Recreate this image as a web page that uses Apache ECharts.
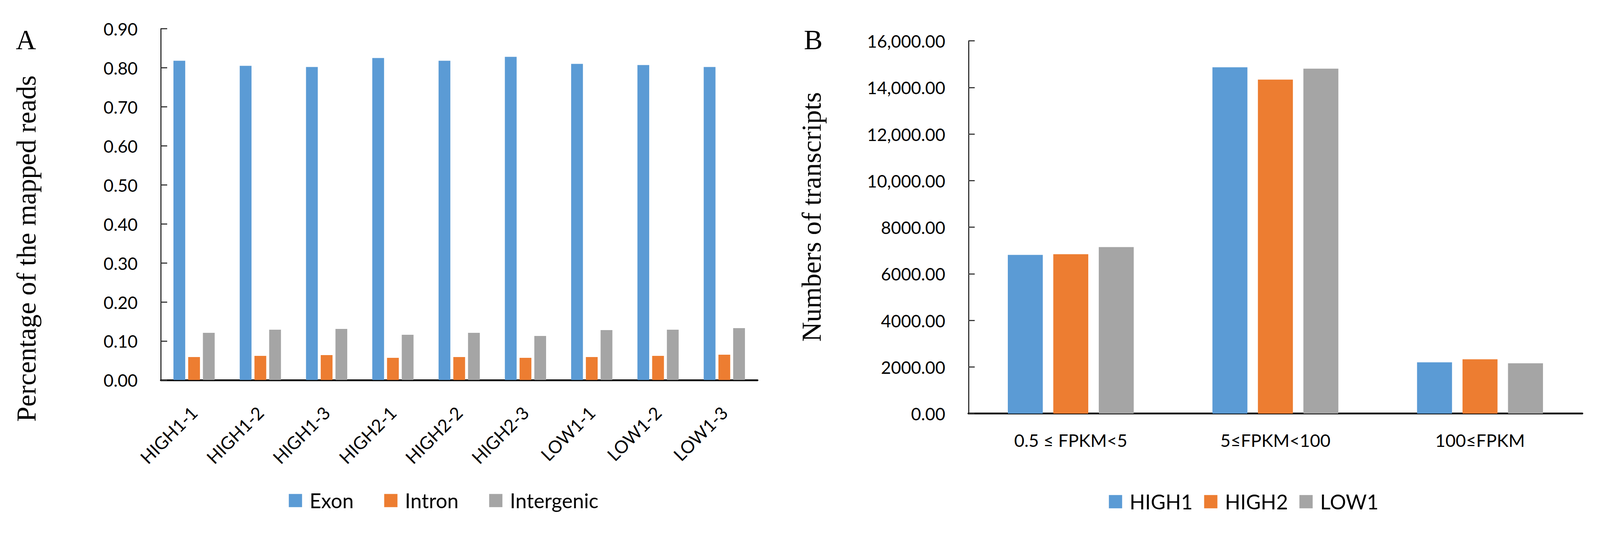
<!DOCTYPE html>
<html>
<head>
<meta charset="utf-8">
<script src="https://cdn.jsdelivr.net/npm/echarts@6/dist/echarts.min.js"></script>
<style>
html,body{margin:0;padding:0;background:#fff;overflow:hidden;}
#c{position:absolute;left:0;top:0;}
</style>
</head>
<body>
<div id="c"></div>
<script>
// ---- Panel A data ----
const samplesA = ['HIGH1-1','HIGH1-2','HIGH1-3','HIGH2-1','HIGH2-2','HIGH2-3','LOW1-1','LOW1-2','LOW1-3'];
const exon       = [0.818, 0.805, 0.802, 0.825, 0.818, 0.828, 0.810, 0.807, 0.802];
const intron     = [0.059, 0.062, 0.064, 0.057, 0.059, 0.057, 0.059, 0.062, 0.065];
const intergenic = [0.121, 0.129, 0.131, 0.116, 0.121, 0.113, 0.128, 0.129, 0.133];
const yTicksA = ['0.00','0.10','0.20','0.30','0.40','0.50','0.60','0.70','0.80','0.90'];
const seriesNamesA = ['Exon','Intron','Intergenic'];

// ---- Panel B data ----
const rangesB = ['0.5 \u2264 FPKM<5', '5\u2264FPKM<100', '100\u2264FPKM'];
const high1 = [6812, 14865, 2201];
const high2 = [6841, 14336, 2330];
const low1  = [7145, 14806, 2158];
const yTicksB = ['0.00','2000.00','4000.00','6000.00','8000.00','10,000.00','12,000.00','14,000.00','16,000.00'];
const seriesNamesB = ['HIGH1','HIGH2','LOW1'];

const colors = ['#5B9BD5','#ED7D31','#A5A5A5'];
const sans = 'Lato';
const serif = 'Liberation Serif';

// scale design units (4345 x 1431) to the actual viewport
const vw = window.innerWidth || 4345, vh = window.innerHeight || 1431;
const k = Math.min(vw / 4345, vh / 1431);
const s = (v) => v * k;
const el = document.getElementById('c');
el.style.width = s(4345) + 'px';
el.style.height = s(1431) + 'px';

const chart = echarts.init(el, null, {renderer:'svg'});

const axisLineStyle = {color:'#000', width:s(5)};
const yLineStyle = {color:'#000', width:s(2.5)};
const tickStyle = {color:'#333', width:s(3)};

const option = {
  backgroundColor:'#fff',
  animation:false,
  grid:[
    {left:s(437), top:s(78), width:s(1620), height:s(954)},
    {left:s(2630), top:s(111), width:s(1667), height:s(1012)}
  ],
  xAxis:[
    {type:'category', gridIndex:0, data:samplesA,
     axisLine:{lineStyle:axisLineStyle}, axisTick:{show:false},
     axisLabel:{rotate:45, interval:0, margin:s(80), fontFamily:sans, fontSize:s(48), color:'#000'}},
    {type:'category', gridIndex:1, data:rangesB,
     axisLine:{lineStyle:axisLineStyle}, axisTick:{show:false},
     axisLabel:{interval:0, margin:s(48), fontFamily:sans, fontSize:s(48), color:'#000'}}
  ],
  yAxis:[
    {type:'value', gridIndex:0, min:0, max:0.9, interval:0.1,
     axisLine:{show:true, lineStyle:yLineStyle},
     axisTick:{show:true, inside:true, length:s(17), lineStyle:tickStyle},
     splitLine:{show:false},
     axisLabel:{margin:s(63), fontFamily:sans, fontSize:s(47), color:'#000',
       formatter:(v)=>yTicksA[Math.round(v*10)]}},
    {type:'value', gridIndex:1, min:0, max:16000, interval:2000,
     axisLine:{show:true, lineStyle:yLineStyle},
     axisTick:{show:true, inside:true, length:s(17), lineStyle:tickStyle},
     splitLine:{show:false},
     axisLabel:{margin:s(63), fontFamily:sans, fontSize:s(47), color:'#000',
       formatter:(v)=>yTicksB[Math.round(v/2000)]}}
  ],
  legend:[
    {data:seriesNamesA, left:s(779), top:s(1326), itemWidth:s(36), itemHeight:s(36), itemGap:s(83), icon:'rect',
     textStyle:{fontFamily:sans, fontSize:s(55), color:'#000', lineHeight:s(56), padding:[0,0,0,s(15)]}},
    {data:seriesNamesB, left:s(3006), top:s(1329), itemWidth:s(36), itemHeight:s(36), itemGap:s(31), icon:'rect',
     textStyle:{fontFamily:sans, fontSize:s(55), color:'#000', lineHeight:s(56), padding:[0,0,0,s(15)]}}
  ],
  series:[
    {name:seriesNamesA[0], type:'bar', xAxisIndex:0, yAxisIndex:0, data:exon, barWidth:s(32), barGap:'25%', itemStyle:{color:colors[0]}},
    {name:seriesNamesA[1], type:'bar', xAxisIndex:0, yAxisIndex:0, data:intron, barWidth:s(32), barGap:'25%', itemStyle:{color:colors[1]}},
    {name:seriesNamesA[2], type:'bar', xAxisIndex:0, yAxisIndex:0, data:intergenic, barWidth:s(32), barGap:'25%', itemStyle:{color:colors[2]}},
    {name:seriesNamesB[0], type:'bar', xAxisIndex:1, yAxisIndex:1, data:high1, barWidth:s(95), barGap:'30%', itemStyle:{color:colors[0]}},
    {name:seriesNamesB[1], type:'bar', xAxisIndex:1, yAxisIndex:1, data:high2, barWidth:s(95), barGap:'30%', itemStyle:{color:colors[1]}},
    {name:seriesNamesB[2], type:'bar', xAxisIndex:1, yAxisIndex:1, data:low1, barWidth:s(95), barGap:'30%', itemStyle:{color:colors[2]}}
  ],
  graphic:[
    {type:'text', left:s(43), top:s(70), style:{text:'A', fontFamily:serif, fontSize:s(76), fill:'#000'}},
    {type:'text', left:s(2183), top:s(70), style:{text:'B', fontFamily:serif, fontSize:s(76), fill:'#000'}},
    {type:'text', x:s(72), y:s(675), rotation:Math.PI/2,
     style:{text:'Percentage of the mapped reads', fontFamily:serif, fontSize:s(74), fill:'#000', align:'center', verticalAlign:'middle'}},
    {type:'text', x:s(2204), y:s(589), rotation:Math.PI/2,
     style:{text:'Numbers of transcripts', fontFamily:serif, fontSize:s(74), fill:'#000', align:'center', verticalAlign:'middle'}}
  ]
};
chart.setOption(option);
</script>
</body>
</html>
